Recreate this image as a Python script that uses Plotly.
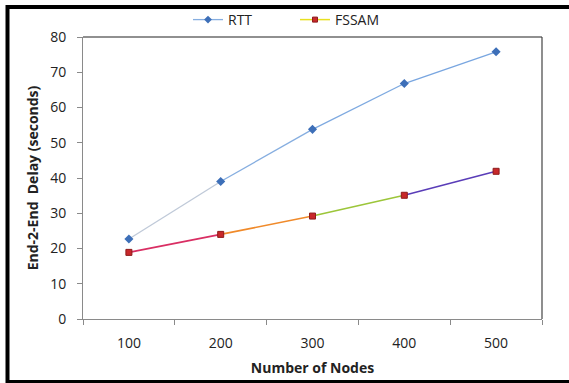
import plotly.graph_objects as go

nodes = ["100", "200", "300", "400", "500"]
rtt = [22.7, 39.0, 53.8, 66.8, 75.8]
fssam = [18.9, 24.0, 29.2, 35.1, 41.9]
y_ticks = [0, 10, 20, 30, 40, 50, 60, 70, 80]

rtt_seg_colors = ["#BFC9D8", "#86AEE0", "#7EA9E0", "#79A6E0"]
fssam_seg_colors = ["#D92E63", "#F08A2A", "#9CC63A", "#5A3DB8"]

W, H = 569, 383
L, R, T, B = 83, 27, 37, 64
pw, ph = W - L - R, H - T - B

def px2paper(x, y):
    return (x - L) / pw, (H - B - y) / ph

fig = go.Figure()

# segment lines
for i in range(len(nodes) - 1):
    fig.add_trace(go.Scatter(x=nodes[i:i+2], y=rtt[i:i+2], mode="lines",
                             line=dict(color=rtt_seg_colors[i], width=1.3),
                             showlegend=False, hoverinfo="skip"))
    fig.add_trace(go.Scatter(x=nodes[i:i+2], y=fssam[i:i+2], mode="lines",
                             line=dict(color=fssam_seg_colors[i], width=1.6),
                             showlegend=False, hoverinfo="skip"))

fig.add_trace(go.Scatter(x=nodes, y=rtt, mode="markers", name="RTT",
                         marker=dict(symbol="diamond", size=7, color="#3D6FB8"),
                         showlegend=False))
fig.add_trace(go.Scatter(x=nodes, y=fssam, mode="markers", name="FSSAM",
                         marker=dict(symbol="square", size=6, color="#C8282A",
                                     line=dict(color="#8E1B1B", width=1)),
                         showlegend=False))

# legend entries
fig.add_trace(go.Scatter(x=[None], y=[None], mode="lines+markers", name="RTT",
                         line=dict(color="#86AEE0", width=1.3),
                         marker=dict(symbol="diamond", size=6, color="#3D6FB8")))
fig.add_trace(go.Scatter(x=[None], y=[None], mode="lines+markers", name="FSSAM",
                         line=dict(color="#E8E020", width=1.5),
                         marker=dict(symbol="square", size=5, color="#C8282A",
                                     line=dict(color="#8E1B1B", width=1))))

x0, y0 = px2paper(7.5, 7)
x1, y1 = px2paper(600, 382)

fig.update_layout(
    width=W, height=H,
    margin=dict(l=L, r=R, t=T, b=B, autoexpand=False),
    paper_bgcolor="white", plot_bgcolor="white",
    font=dict(family="Open Sans", size=14, color="#222222"),
    showlegend=True,
    legend=dict(orientation="h", xref="container", yref="container",
                x=188 / W, xanchor="left",
                y=1 - 20 / H, yanchor="middle",
                font=dict(size=14, color="#222222"),
                bgcolor="rgba(0,0,0,0)", entrywidth=62, tracegroupgap=0),
    xaxis=dict(type="category", range=[-0.5, 4.5], showgrid=False, zeroline=False,
               showline=True, linecolor="#8A8A8A", linewidth=1,
               ticks="outside", ticklen=5, tickcolor="#8A8A8A", tickson="boundaries",
               ticklabelstandoff=11,
               tickfont=dict(size=14, color="#222222"),
               title=dict(text="<b>Number of Nodes</b>", standoff=12,
                          font=dict(size=14, color="#222222"))),
    yaxis=dict(range=[0, 80], tickvals=y_ticks, showgrid=False, zeroline=False,
               showline=True, linecolor="#8A8A8A", linewidth=1,
               ticks="outside", ticklen=5, tickcolor="#8A8A8A",
               ticklabelstandoff=8,
               tickfont=dict(size=14, color="#222222"),
               title=dict(text="<b>End-2-End  Delay (seconds)</b>", standoff=8,
                          font=dict(size=14, color="#222222"))),
    shapes=[
        dict(type="line", xref="paper", yref="paper", x0=0, x1=1, y0=1, y1=1,
             line=dict(color="#222222", width=1.2)),
        dict(type="line", xref="paper", yref="paper", x0=1, x1=1, y0=0, y1=1,
             line=dict(color="#444444", width=1.2)),
        dict(type="rect", xref="paper", yref="paper", x0=x0, x1=x1, y0=y0, y1=y1,
             line=dict(color="black", width=4), fillcolor="rgba(0,0,0,0)"),
    ],
)

fig.write_html("out.html")
